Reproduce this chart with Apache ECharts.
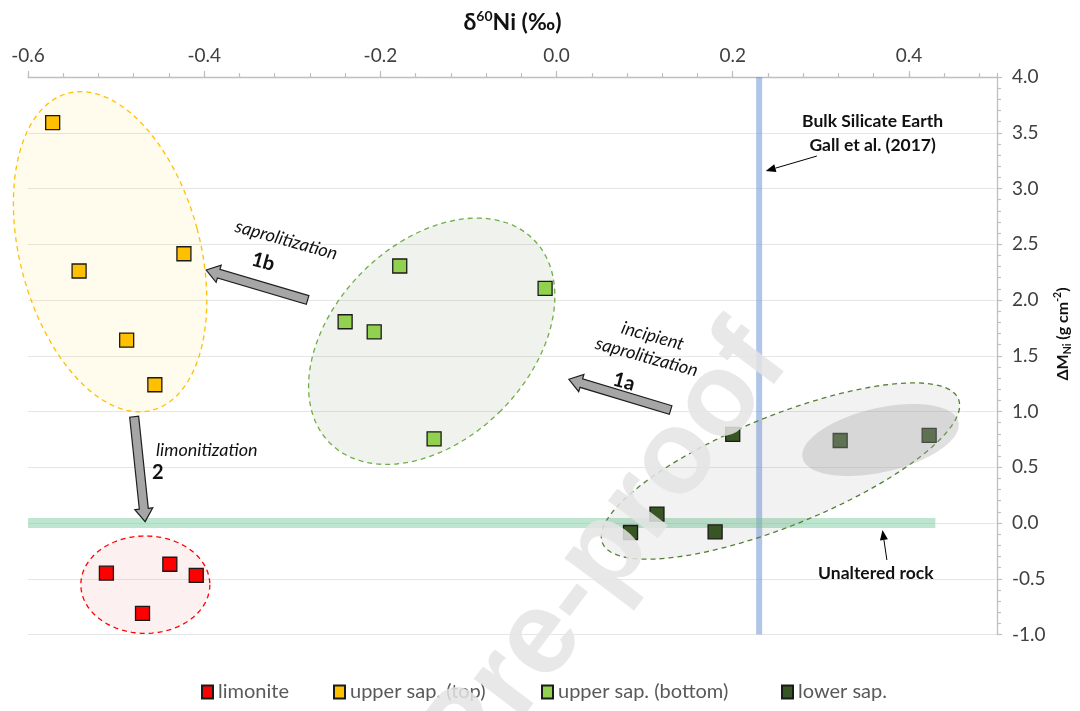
<!DOCTYPE html>
<html>
<head>
<meta charset="utf-8">
<title>δ60Ni vs ΔMNi</title>
<script src="https://cdn.jsdelivr.net/npm/echarts@6/dist/echarts.min.js"></script>
<style>
  html, body { margin: 0; padding: 0; background: #ffffff; }
  #chart { width: 1080px; height: 711px; }
</style>
</head>
<body>
<div id="chart"></div>
<script>
// ---- Sample values: δ60Ni (‰) on x, ΔMNi (g cm-2) on y ----
const limoniteX     = [-0.511, -0.439, -0.409, -0.470];
const limoniteY     = [-0.45, -0.37, -0.47, -0.81];
const upperTopX     = [-0.572, -0.423, -0.542, -0.488, -0.456];
const upperTopY     = [3.59, 2.415, 2.26, 1.64, 1.24];
const upperBottomX  = [-0.178, -0.013, -0.240, -0.207, -0.139];
const upperBottomY  = [2.305, 2.105, 1.805, 1.715, 0.755];
const lowerSapX     = [0.322, 0.423, 0.200, 0.114, 0.084, 0.180];
const lowerSapY     = [0.74, 0.785, 0.795, 0.08, -0.085, -0.08];

const seriesNames   = ['limonite', 'upper sap. (top)', 'upper sap. (bottom)', 'lower sap.'];

// ---- Axis ranges and tick steps ----
const xRange = [-0.6, 0.5];
const xMajorStep = 0.2;
const xMinorStep = 0.04;
const yRange = [-1.0, 4.0];
const yMajorStep = 0.5;

// ---- Reference values ----
const bseDelta = 0.23;              // Bulk Silicate Earth, Gall et al. (2017)
const unalteredDelta = 0.0;         // unaltered rock, ΔMNi = 0
const unalteredSpan = [-0.6, 0.43];

// ---- Helpers ----
const pairs = (xs, ys) => xs.map((x, i) => [x, ys[i]]);
const FONT = 'Lato, "Open Sans", "DejaVu Sans", sans-serif';

// Group outlines (centre in data units, radii in px, rotation in deg)
const groupZones = [
  { center: [-0.5068, 2.433], rx: 90, ry: 164, angle: -15, fill: 'rgba(255,192,0,0.07)',    stroke: '#ffc000' },
  { center: [-0.1417, 1.630], rx: 98, ry: 144, angle: 45,  fill: 'rgba(112,140,80,0.10)',   stroke: '#70ad47' },
  { center: [-0.4668, -0.553], rx: 64.5, ry: 48.7, angle: 0, fill: 'rgba(220,60,60,0.08)',   stroke: '#ff0000' },
  { center: [0.2542, 0.466], rx: 192, ry: 55, angle: -22,  fill: 'rgba(128,128,128,0.10)',  stroke: '#548235' }
];
const coreZone = [
  { center: [0.3678, 0.744], rx: 80, ry: 32, angle: -13, fill: 'rgba(166,166,166,0.35)', stroke: null }
];

// Process arrows: [tailX, tailY, tipX, tipY]
const processArrows = [
  [-0.2826, 2.000, -0.3977, 2.269],   // 1b saprolitization
  [0.1295, 1.013, 0.014, 1.289],      // 1a incipient saprolitization
  [-0.4795, 0.953, -0.467, 0.012]     // 2 limonitization
];
// Thin pointers: [fromX, fromY, tipX, tipY]
const pointerArrows = [
  [0.2955, 3.291, 0.2375, 3.157],     // to Bulk Silicate Earth line
  [0.375, -0.332, 0.370, -0.063]      // to unaltered rock line
];

// Text notes anchored in data units (rot in degrees, negative = clockwise)
const notes = [
  { at: [-0.3068, 2.538], text: 'saprolitization', rot: -15.5, size: 18, style: 'italic', weight: 'normal' },
  { at: [-0.333, 2.343],  text: '1b',              rot: -15.5, size: 20, style: 'normal', weight: 'bold' },
  { at: [0.109, 1.677],   text: 'incipient',       rot: -15.5, size: 18, style: 'italic', weight: 'normal' },
  { at: [0.1023, 1.489],  text: 'saprolitization', rot: -15.5, size: 18, style: 'italic', weight: 'normal' },
  { at: [0.0765, 1.267],  text: '1a',              rot: -15.5, size: 20, style: 'normal', weight: 'bold' },
  { at: [-0.397, 0.655],  text: 'limonitization',  rot: 0,     size: 18, style: 'italic', weight: 'normal' },
  { at: [-0.4526, 0.451], text: '2',               rot: 0,     size: 20, style: 'normal', weight: 'bold' },
  { at: [0.3588, 3.599],  text: 'Bulk Silicate Earth', rot: 0, size: 17.5, style: 'normal', weight: 'bold' },
  { at: [0.3588, 3.390],  text: 'Gall et al. (2017)',  rot: 0, size: 17.5, style: 'normal', weight: 'bold' },
  { at: [0.3625, -0.448], text: 'Unaltered rock',  rot: 0,     size: 17.5, style: 'normal', weight: 'bold' }
];

function ellipseRenderer(list) {
  return function (params, api) {
    const z = list[params.dataIndex];
    const c = api.coord([api.value(0), api.value(1)]);
    const phi = z.angle * Math.PI / 180;
    const pts = [];
    for (let k = 0; k < 120; k++) {
      const t = k / 120 * Math.PI * 2;
      const px = z.rx * Math.cos(t), py = z.ry * Math.sin(t);
      pts.push([c[0] + px * Math.cos(phi) - py * Math.sin(phi),
                c[1] + px * Math.sin(phi) + py * Math.cos(phi)]);
    }
    return {
      type: 'polygon',
      shape: { points: pts },
      style: z.stroke
        ? { fill: z.fill, stroke: z.stroke, lineWidth: 1.3, lineDash: [5, 4] }
        : { fill: z.fill, stroke: null }
    };
  };
}

function blockArrow(params, api) {
  const a = api.coord([api.value(0), api.value(1)]);
  const b = api.coord([api.value(2), api.value(3)]);
  const dx = b[0] - a[0], dy = b[1] - a[1];
  const L = Math.hypot(dx, dy), ux = dx / L, uy = dy / L, nx = -uy, ny = ux;
  const hw = 4.5, hh = 9, hl = 13;
  const bx = b[0] - ux * hl, by = b[1] - uy * hl;
  return {
    type: 'polygon',
    shape: { points: [
      [a[0] + nx * hw, a[1] + ny * hw], [bx + nx * hw, by + ny * hw], [bx + nx * hh, by + ny * hh],
      [b[0], b[1]],
      [bx - nx * hh, by - ny * hh], [bx - nx * hw, by - ny * hw], [a[0] - nx * hw, a[1] - ny * hw]
    ] },
    style: { fill: '#a6a6a6', stroke: '#1f1f1f', lineWidth: 1.2, lineJoin: 'miter' }
  };
}

function pointerArrow(params, api) {
  const a = api.coord([api.value(0), api.value(1)]);
  const b = api.coord([api.value(2), api.value(3)]);
  const dx = b[0] - a[0], dy = b[1] - a[1];
  const L = Math.hypot(dx, dy), ux = dx / L, uy = dy / L, nx = -uy, ny = ux;
  const hl = 10, hh = 4;
  const bx = b[0] - ux * hl, by = b[1] - uy * hl;
  return {
    type: 'group',
    children: [
      { type: 'line', shape: { x1: a[0], y1: a[1], x2: bx, y2: by }, style: { stroke: '#000', lineWidth: 1 } },
      { type: 'polygon', shape: { points: [[b[0], b[1]], [bx + nx * hh, by + ny * hh], [bx - nx * hh, by - ny * hh]] },
        style: { fill: '#000' } }
    ]
  };
}

function noteRenderer(params, api) {
  const n = notes[params.dataIndex];
  const p = api.coord([api.value(0), api.value(1)]);
  return {
    type: 'text',
    x: p[0], y: p[1],
    rotation: n.rot * Math.PI / 180,
    style: {
      text: n.text, fill: '#111111', fontSize: n.size, fontFamily: FONT,
      fontWeight: n.weight, fontStyle: n.style, align: 'center', verticalAlign: 'middle'
    }
  };
}

function scatter(name, xs, ys, color) {
  return {
    name, type: 'scatter', data: pairs(xs, ys), symbol: 'rect', symbolSize: 14, z: 4,
    itemStyle: { color, borderColor: '#1a1a1a', borderWidth: 1.3, opacity: 1 },
    emphasis: { disabled: true }
  };
}

const legendSlots = [201, 333, 541, 781];
const legendStyle = { color: '#595959', fontSize: 20, fontFamily: FONT };

const chart = echarts.init(document.getElementById('chart'), null, { renderer: 'canvas' });

chart.setOption({
  animation: false,
  backgroundColor: '#ffffff',
  grid: { left: 28, right: 83, top: 77, bottom: 76.5, containLabel: false },
  legend: seriesNames.map((nm, i) => ({
    data: [nm], left: legendSlots[i], top: 682, padding: 0, icon: 'rect', itemWidth: 11, itemHeight: 13,
    itemGap: 0, textStyle: legendStyle, selectedMode: false
  })),
  xAxis: [
    {
      type: 'value', position: 'top', min: xRange[0], max: xRange[1], interval: xMajorStep,
      axisLine: { show: true, onZero: false, lineStyle: { color: '#bfbfbf', width: 1.3 } },
      axisTick: { show: true, length: 6, lineStyle: { color: '#bfbfbf', width: 1.2 } },
      splitLine: { show: false },
      axisLabel: {
        fontSize: 19, color: '#404040', fontFamily: FONT, margin: 12, showMaxLabel: false,
        formatter: v => Math.abs(v) < 1e-9 ? '0.0' : v.toFixed(1)
      },
      name: '{m|δ}{s|60}{m|Ni (‰)}', nameLocation: 'middle', nameGap: 41,
      nameTextStyle: {
        rich: {
          m: { fontSize: 23, fontWeight: 'bold', fontFamily: FONT, color: '#111', lineHeight: 27 },
          s: { fontSize: 14, fontWeight: 'bold', fontFamily: FONT, color: '#111', lineHeight: 14, verticalAlign: 'top' }
        }
      }
    },
    {
      type: 'value', position: 'top', min: xRange[0], max: xRange[1], interval: xMinorStep,
      axisLine: { show: false, onZero: false }, axisLabel: { show: false }, splitLine: { show: false },
      axisTick: { show: true, length: 4, lineStyle: { color: '#bfbfbf', width: 1.2 } }
    }
  ],
  yAxis: {
    type: 'value', position: 'right', min: yRange[0], max: yRange[1], interval: yMajorStep,
    axisLine: { show: true, onZero: false, lineStyle: { color: '#bfbfbf', width: 1.3 } },
    axisTick: { show: true, length: 5, lineStyle: { color: '#bfbfbf', width: 1.2 } },
    minorTick: { show: true, splitNumber: 5, length: 4, lineStyle: { color: '#bfbfbf', width: 1.2 } },
    splitLine: { show: true, lineStyle: { color: '#e6e6e6', width: 1.2 } },
    axisLabel: { fontSize: 19, color: '#404040', fontFamily: FONT, margin: 15, formatter: v => v.toFixed(1) }
  },
  graphic: [
    {
      type: 'text', x: 1063, y: 334, rotation: Math.PI / 2, z: 20,
      style: {
        text: '{m|ΔM}{b|Ni}{m| (g cm}{p|-2}{m|)}', align: 'center', verticalAlign: 'middle',
        rich: {
          m: { fontSize: 16, fontWeight: 'bold', fontFamily: FONT, fill: '#111', lineHeight: 21 },
          b: { fontSize: 10.5, fontWeight: 'bold', fontFamily: FONT, fill: '#111', lineHeight: 11, verticalAlign: 'bottom' },
          p: { fontSize: 10.5, fontWeight: 'bold', fontFamily: FONT, fill: '#111', lineHeight: 11, verticalAlign: 'top' }
        }
      }
    },
    {
      type: 'text', x: 765, y: 342, rotation: 53 * Math.PI / 180, z: 50, silent: true,
      style: {
        text: 'Journal Pre-proof', align: 'right', verticalAlign: 'middle',
        fontSize: 118, fontWeight: 'bold', fontFamily: '"Liberation Sans", Arial, sans-serif',
        fill: 'rgba(228,228,228,0.85)'
      }
    }
  ],
  series: [
    {
      name: 'BSE', type: 'line', data: [[bseDelta, yRange[0]], [bseDelta, yRange[1]]],
      symbol: 'none', silent: true, z: 1,
      lineStyle: { color: 'rgba(100,140,210,0.5)', width: 6 }
    },
    {
      name: 'unaltered', type: 'line', data: [[unalteredSpan[0], unalteredDelta], [unalteredSpan[1], unalteredDelta]],
      symbol: 'none', silent: true, z: 1,
      lineStyle: { color: 'rgba(124,204,160,0.5)', width: 10 }
    },
    {
      name: 'zones', type: 'custom', renderItem: ellipseRenderer(groupZones), clip: false, silent: true, z: 2,
      data: groupZones.map(z => z.center)
    },
    scatter(seriesNames[0], limoniteX, limoniteY, '#ff0000'),
    scatter(seriesNames[1], upperTopX, upperTopY, '#ffc000'),
    scatter(seriesNames[2], upperBottomX, upperBottomY, '#92d050'),
    scatter(seriesNames[3], lowerSapX, lowerSapY, '#375623'),
    {
      name: 'core', type: 'custom', renderItem: ellipseRenderer(coreZone), clip: false, silent: true, z: 5,
      data: coreZone.map(z => z.center)
    },
    {
      name: 'process', type: 'custom', renderItem: blockArrow, clip: false, silent: true, z: 6,
      data: processArrows
    },
    {
      name: 'pointers', type: 'custom', renderItem: pointerArrow, clip: false, silent: true, z: 6,
      data: pointerArrows
    },
    {
      name: 'notes', type: 'custom', renderItem: noteRenderer, clip: false, silent: true, z: 7,
      data: notes.map(n => n.at)
    }
  ]
});
</script>
</body>
</html>
